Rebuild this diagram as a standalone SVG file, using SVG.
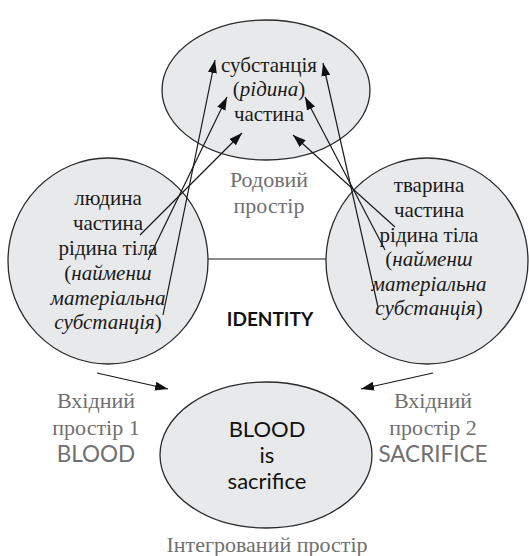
<svg xmlns="http://www.w3.org/2000/svg" width="529" height="556" viewBox="0 0 529 556">
<defs>
<marker id="ah" markerUnits="userSpaceOnUse" markerWidth="14" markerHeight="10" refX="13" refY="4.5" orient="auto">
<path d="M0,0 L13,4.5 L0,9 z" fill="#111"/>
</marker>
<style>
.sp{fill:#e8e9ea;stroke:#2a2a2a;stroke-width:1.3}
.t{font-size:21px;fill:#1a1a1a;text-anchor:middle}
.g{font-size:22px;fill:#707070;text-anchor:middle}
.gs{font-size:22.5px;fill:#707070;text-anchor:middle}
.bs{font-size:22px;fill:#111;text-anchor:middle}
.id{font-size:19px;font-weight:bold;fill:#111;text-anchor:middle}
.i{font-style:italic}
.c{fill:none;stroke:#1a1a1a;stroke-width:1.2}
.a{fill:none;stroke:#1a1a1a;stroke-width:1.2;marker-end:url(#ah)}
</style>
</defs>

<g id="generic" font-family="'Liberation Serif', 'DejaVu Serif', serif">
<ellipse class="sp" cx="266" cy="90" rx="104" ry="70"/>
<text class="t" x="269" y="72">субстанція</text>
<text class="t" x="269" y="96">(<tspan class="i">рідина</tspan>)</text>
<text class="t" x="269" y="121">частина</text>
<text class="g" x="269" y="187">Родовий</text>
<text class="g" x="269" y="213">простір</text>
</g>

<g id="input1" font-family="'Liberation Serif', 'DejaVu Serif', serif">
<ellipse class="sp" cx="108" cy="261" rx="100" ry="103"/>
<text class="t" x="108" y="205">людина</text>
<text class="t" x="108" y="230">частина</text>
<text class="t" x="108" y="255">рідина тіла</text>
<text class="t" x="108" y="280">(<tspan class="i">найменш</tspan></text>
<text class="t i" x="108" y="305">матеріальна</text>
<text class="t" x="108" y="329"><tspan class="i">субстанція</tspan>)</text>
<text class="g" x="96" y="408">Вхідний</text>
<text class="g" x="96" y="435">простір 1</text>
<text class="gs" x="96" y="462" font-family="Lato, 'Open Sans', sans-serif">BLOOD</text>
</g>

<g id="input2" font-family="'Liberation Serif', 'DejaVu Serif', serif">
<ellipse class="sp" cx="427" cy="261" rx="101" ry="103"/>
<text class="t" x="429" y="192">тварина</text>
<text class="t" x="429" y="217">частина</text>
<text class="t" x="429" y="242">рідина тіла</text>
<text class="t" x="429" y="266">(<tspan class="i">найменш</tspan></text>
<text class="t i" x="429" y="291">матеріальна</text>
<text class="t" x="429" y="315"><tspan class="i">субстанція</tspan>)</text>
<text class="g" x="433" y="408">Вхідний</text>
<text class="g" x="433" y="435">простір 2</text>
<text class="gs" x="433" y="462" font-family="Lato, 'Open Sans', sans-serif">SACRIFICE</text>
</g>

<g id="blend" font-family="'Liberation Serif', 'DejaVu Serif', serif">
<ellipse class="sp" cx="266" cy="455" rx="106" ry="73"/>
<text class="bs" x="267" y="437" font-family="Lato, 'Open Sans', sans-serif">BLOOD</text>
<text class="bs" x="267" y="463" font-family="Lato, 'Open Sans', sans-serif">is</text>
<text class="bs" x="267" y="489" font-family="Lato, 'Open Sans', sans-serif">sacrifice</text>
<text class="g" x="267" y="552">Інтегрований простір</text>
</g>

<text class="id" x="270" y="326" font-family="Lato, 'Open Sans', sans-serif">IDENTITY</text>

<g id="connectors">
<line class="c" x1="208" y1="259" x2="326" y2="259"/>
<line class="a" x1="140" y1="235" x2="242" y2="133"/>
<line class="a" x1="148" y1="260" x2="227" y2="97"/>
<line class="a" x1="163" y1="315" x2="215" y2="60"/>
<line class="a" x1="395" y1="227" x2="293" y2="135"/>
<line class="a" x1="385" y1="250" x2="305" y2="97"/>
<line class="a" x1="378" y1="307" x2="323" y2="63"/>
<line class="a" x1="97" y1="373" x2="168" y2="389"/>
<line class="a" x1="433" y1="373" x2="361" y2="389"/>
</g>
</svg>
